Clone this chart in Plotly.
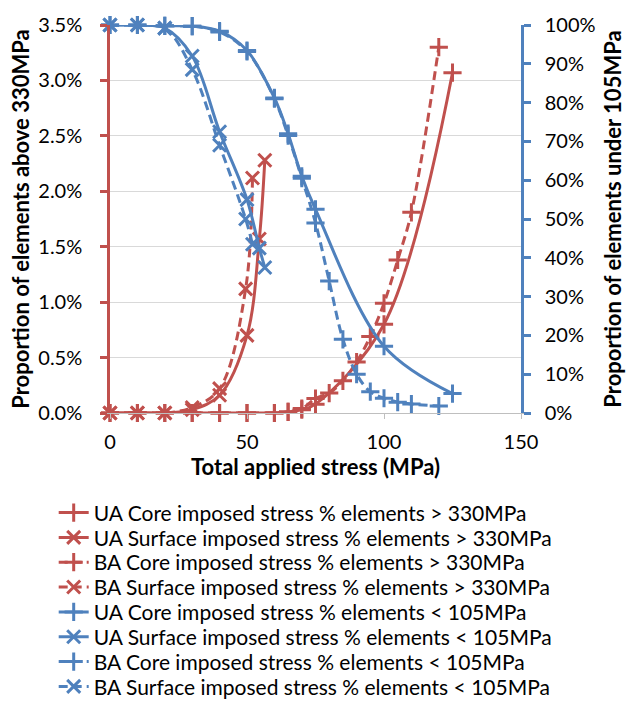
import plotly.graph_objects as go

# Stress levels (MPa) for each loading case
ua_core_stress = [0, 10, 20, 30, 40, 50, 60, 65, 70, 75, 100, 125]
ba_core_stress = [0, 10, 20, 30, 40, 50, 60, 65, 70, 75, 80, 85, 90, 95, 100, 105, 110, 120]
ua_surf_stress = [0, 10, 20, 30, 40, 50, 54.5, 56.5]
ba_surf_stress = [0, 10, 20, 30, 40, 49.5, 52]

# % of elements above 330 MPa (left axis)
ua_core_above = [0, 0, 0, 0, 0, 0, 0, 0.01, 0.03, 0.08, 0.80, 3.07]
ba_core_above = [0, 0, 0, 0, 0, 0, 0, 0.01, 0.04, 0.13, 0.18, 0.29, 0.46, 0.69, 0.99, 1.38, 1.81, 3.30]
ua_surf_above = [0, 0, 0, 0.03, 0.16, 0.70, 1.57, 2.28]
ba_surf_above = [0, 0, 0, 0.05, 0.22, 1.12, 2.12]

# % of elements under 105 MPa (right axis)
ua_core_under = [100, 100, 99.8, 99.7, 98.4, 93.4, 81.2, 72, 61, 52.5, 17.2, 5]
ba_core_under = [100, 100, 99.8, 99.7, 98.2, 93.2, 81, 71.5, 60.5, 49, 34, 19, 10, 5.5, 3.8, 2.8, 2.3, 1.8]
ua_surf_under = [100, 100, 99.2, 92, 72.5, 55, 42.5, 37.5]
ba_surf_under = [100, 100, 99.2, 88.5, 69, 50, 43.5]

RED = "#C0504D"
BLUE = "#4F81BD"
FONT = "Lato"
DASH = "9px,5px"

series = [
    ("UA Core imposed stress % elements > 330MPa", ua_core_stress, ua_core_above, RED, "solid", "cross-thin", "y"),
    ("UA Surface imposed stress % elements > 330MPa", ua_surf_stress, ua_surf_above, RED, "solid", "x-thin", "y"),
    ("BA Core imposed stress % elements > 330MPa", ba_core_stress, ba_core_above, RED, DASH, "cross-thin", "y"),
    ("BA Surface imposed stress % elements > 330MPa", ba_surf_stress, ba_surf_above, RED, DASH, "x-thin", "y"),
    ("UA Core imposed stress % elements < 105MPa", ua_core_stress, ua_core_under, BLUE, "solid", "cross-thin", "y2"),
    ("UA Surface imposed stress % elements < 105MPa", ua_surf_stress, ua_surf_under, BLUE, "solid", "x-thin", "y2"),
    ("BA Core imposed stress % elements < 105MPa", ba_core_stress, ba_core_under, BLUE, DASH, "cross-thin", "y2"),
    ("BA Surface imposed stress % elements < 105MPa", ba_surf_stress, ba_surf_under, BLUE, DASH, "x-thin", "y2"),
]

fig = go.Figure()
legend_layouts = {}
# each entry gets its own legend box so the rows can sit closer than the default line height
row_y0, row_step = -0.2575, 0.064
for i, (name, xs, ys, color, dash, symbol, axis) in enumerate(series):
    key = "legend" if i == 0 else f"legend{i + 1}"
    fig.add_trace(go.Scatter(
        x=xs, y=ys, name=name, yaxis=axis, mode="lines+markers",
        line=dict(color=color, width=3, dash=dash, shape="spline", smoothing=1),
        marker=dict(symbol=symbol, size=13, color=color,
                    line=dict(color=color, width=3)),
        cliponaxis=False,
        legend=key,
    ))
    legend_layouts[key] = dict(
        orientation="v", x=-0.137, xanchor="left",
        y=row_y0 - i * row_step, yanchor="middle",
        font=dict(family=FONT, size=21, color="black"),
        bgcolor="rgba(0,0,0,0)", itemwidth=30,
    )

tick_font = dict(family=FONT, size=20, color="black")
title_font = dict(family=FONT, size=22, color="black", weight="bold")

fig.update_layout(
    width=635, height=720,
    margin=dict(l=110, r=103, t=22, b=298),
    paper_bgcolor="white", plot_bgcolor="white",
    font=dict(family=FONT, color="black"),
    xaxis=dict(
        range=[0, 150], dtick=50, showgrid=False, zeroline=False,
        showline=True, linecolor="#BFBFBF", linewidth=1,
        ticks="outside", ticklen=5, tickcolor="#BFBFBF",
        tickfont=tick_font, ticklabelstandoff=6,
        title=dict(text="Total applied stress (MPa)", font=title_font, standoff=6),
    ),
    yaxis=dict(
        range=[0, 3.5], dtick=0.5, tickformat=".1f", ticksuffix="%",
        showgrid=True, gridcolor="#D9D9D9", gridwidth=1, zeroline=False,
        showline=True, linecolor=RED, linewidth=2.5,
        ticks="outside", ticklen=7, tickwidth=2.5, tickcolor=RED,
        tickfont=tick_font, ticklabelstandoff=14,
        title=dict(text="Proportion of elements above 330MPa", font=title_font, standoff=3),
    ),
    yaxis2=dict(
        range=[0, 100], dtick=10, ticksuffix="%", overlaying="y", side="right",
        showgrid=False, zeroline=False,
        showline=True, linecolor=BLUE, linewidth=2.5,
        ticks="outside", ticklen=7, tickwidth=2.5, tickcolor=BLUE,
        tickfont=tick_font, ticklabelstandoff=10,
        title=dict(text="Proportion of elements under 105MPa", font=title_font, standoff=12),
    ),
    showlegend=True,
    **legend_layouts,
)

fig.write_html("out.html")
